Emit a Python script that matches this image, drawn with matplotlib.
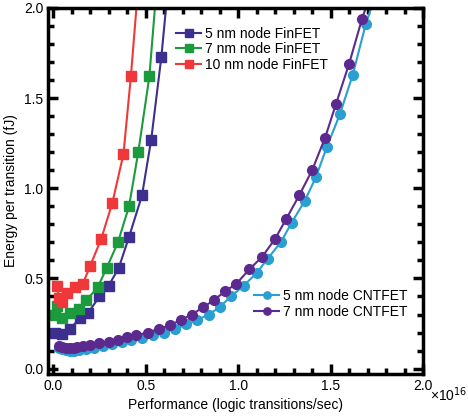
import matplotlib
matplotlib.use("Agg")
import matplotlib.pyplot as plt
from matplotlib.ticker import MultipleLocator

plt.rcParams["font.family"] = ["Liberation Sans", "DejaVu Sans"]

# FinFET (x in 1e16 transitions/sec, energy in fJ); last point is line end only
fin5_x = [0.01, 0.05, 0.09, 0.145, 0.19, 0.25, 0.30, 0.355, 0.41, 0.48, 0.53, 0.585, 0.61]
fin5_y = [0.20, 0.19, 0.22, 0.28, 0.31, 0.40, 0.46, 0.56, 0.73, 0.96, 1.27, 1.73, 2.0]
fin7_x = [0.01, 0.02, 0.05, 0.09, 0.14, 0.18, 0.24, 0.29, 0.35, 0.41, 0.46, 0.52, 0.55]
fin7_y = [0.30, 0.35, 0.28, 0.31, 0.33, 0.38, 0.45, 0.56, 0.70, 0.90, 1.20, 1.62, 2.0]
fin10_x = [0.02, 0.03, 0.05, 0.075, 0.12, 0.16, 0.20, 0.26, 0.32, 0.38, 0.42, 0.45]
fin10_y = [0.46, 0.39, 0.37, 0.42, 0.45, 0.47, 0.57, 0.72, 0.92, 1.19, 1.62, 2.0]

cnt7_x = [0.03, 0.05, 0.07, 0.09, 0.11, 0.13, 0.16, 0.20, 0.25, 0.30, 0.35, 0.40, 0.45,
          0.51, 0.57, 0.63, 0.69, 0.75, 0.81, 0.87, 0.93, 0.99, 1.06, 1.13, 1.20, 1.26,
          1.33, 1.40, 1.47, 1.53, 1.60, 1.67, 1.69]
cnt7_y = [0.125, 0.12, 0.115, 0.115, 0.115, 0.12, 0.125, 0.13, 0.14, 0.15, 0.16, 0.175,
          0.185, 0.20, 0.22, 0.24, 0.27, 0.30, 0.34, 0.38, 0.43, 0.47, 0.55, 0.62, 0.72,
          0.83, 0.96, 1.10, 1.28, 1.47, 1.69, 1.94, 2.0]
cnt5_x = [0.03, 0.05, 0.07, 0.09, 0.11, 0.14, 0.18, 0.22, 0.27, 0.32, 0.37, 0.42, 0.48,
          0.54, 0.60, 0.66, 0.72, 0.78, 0.84, 0.90, 0.96, 1.03, 1.10, 1.16, 1.23, 1.29,
          1.36, 1.42, 1.48, 1.55, 1.62, 1.69, 1.72]
cnt5_y = [0.115, 0.11, 0.105, 0.10, 0.10, 0.105, 0.11, 0.115, 0.125, 0.135, 0.145, 0.16,
          0.17, 0.185, 0.20, 0.22, 0.245, 0.27, 0.30, 0.34, 0.40, 0.46, 0.53, 0.61, 0.70,
          0.81, 0.93, 1.06, 1.23, 1.41, 1.63, 1.91, 2.0]

fig = plt.figure(figsize=(4.68, 4.17), dpi=100)
ax = fig.add_axes([0.103, 0.103, 0.801, 0.878])

def series(x, y, color, marker, ms, label):
    n = len(x) - 1
    return ax.plot(x, y, color=color, lw=1.5, marker=marker, ms=ms,
                   markevery=list(range(n)), label=label)[0]

l5 = series(fin5_x, fin5_y, "#3c2f8f", "s", 7, "5 nm node FinFET")
l7 = series(fin7_x, fin7_y, "#1c9a3e", "s", 7, "7 nm node FinFET")
l10 = series(fin10_x, fin10_y, "#f0383a", "s", 7, "10 nm node FinFET")
c5 = series(cnt5_x, cnt5_y, "#2a9fd2", "o", 7, "5 nm node CNTFET")
c7 = series(cnt7_x, cnt7_y, "#5c2a8e", "o", 7, "7 nm node CNTFET")

ax.set_xlim(-0.027, 2.0)
ax.set_ylim(-0.03, 2.0)
ax.set_xticks([0, 0.5, 1.0, 1.5, 2.0])
ax.set_xticklabels(["0.0", "0.5", "1.0", "1.5", "2.0"])
ax.text(2.035, -0.03, "×10$^{16}$", transform=ax.get_xaxis_transform(),
        ha="left", va="top", fontsize=10)
ax.set_yticks([0, 0.5, 1.0, 1.5, 2.0])
ax.set_yticklabels(["0.0", "0.5", "1.0", "1.5", "2.0"])
ax.xaxis.set_minor_locator(MultipleLocator(0.1))
ax.yaxis.set_minor_locator(MultipleLocator(0.1))
ax.tick_params(which="both", direction="in", top=True, right=True, labelsize=10)
ax.tick_params(which="major", length=7, width=2.5)
ax.tick_params(which="minor", length=4, width=2.5)
for s in ax.spines.values():
    s.set_linewidth(2.5)
ax.set_xlabel("Performance (logic transitions/sec)", fontsize=10)
ax.set_ylabel("Energy per transition (fJ)", fontsize=10)

leg_kw = dict(frameon=False, fontsize=10, handlelength=1.8, handletextpad=0.3,
              labelspacing=0.1, markerscale=0.75, borderpad=0.2)
leg1 = ax.legend(handles=[l5, l7, l10], loc="upper left",
                 bbox_to_anchor=(0.315, 0.975), **leg_kw)
ax.add_artist(leg1)
ax.legend(handles=[c5, c7], loc="lower right", bbox_to_anchor=(0.985, 0.125), **leg_kw)

fig.savefig("out.png", dpi=100)
